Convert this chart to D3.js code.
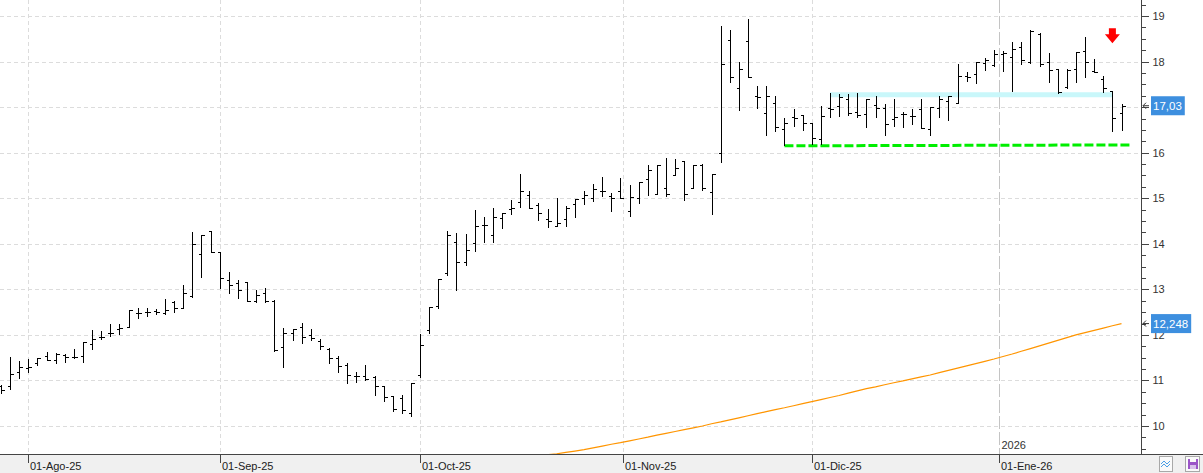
<!DOCTYPE html>
<html>
<head>
<meta charset="utf-8">
<script src="https://cdn.jsdelivr.net/npm/d3@7/dist/d3.min.js"></script>
<style>
    body { margin: 0; background: #ffffff; }
    svg { display: block; font-family: "Liberation Sans", Arial, sans-serif; }
</style>
</head>
<body>
<div id="chart"></div>
<script>
// daily bars, 29-Jul-25 .. 21-Ene-26
const opens = [
    10.88, 10.87, 11.18, 11.27, 11.39, 11.54, 11.45, 11.56, 11.52, 11.53,
    11.80, 11.96, 12.05, 12.12, 12.18, 12.47, 12.51, 12.53, 12.49, 12.72,
    12.60, 12.85, 13.77, 14.29, 13.83, 13.20, 13.15, 13.16, 12.74, 12.91,
    12.74, 11.74, 12.04, 12.18, 12.00, 11.86, 11.70, 11.50, 11.34, 11.09,
    11.09, 11.07, 10.87, 10.66, 10.61, 10.29, 11.13, 12.10, 12.64, 13.35,
    14.03, 13.61, 14.01, 14.41, 14.20, 14.56, 14.76, 14.91, 15.06, 14.85,
    14.54, 14.40, 14.54, 14.88, 15.01, 15.00, 15.15, 15.04, 15.15, 14.71,
    15.00, 15.43, 15.10, 15.22, 15.52, 15.81, 15.22, 15.72, 15.13, 15.99,
    18.48, 17.42, 18.45, 17.25, 16.88, 17.09, 16.53, 16.79, 16.82, 16.66,
    16.31, 16.99, 17.02, 17.17, 16.89, 16.84, 17.04, 16.99, 16.75, 16.84,
    16.80, 16.96, 16.53, 16.99, 17.13, 17.09, 17.68, 17.73, 17.97, 17.93,
    18.16, 18.10, 18.32, 17.98, 18.61, 17.98, 17.84, 17.44, 17.84, 18.24,
    17.79, 17.62, 17.35, 16.88
];
const highs = [
    10.90, 11.52, 11.42, 11.47, 11.50, 11.63, 11.60, 11.58, 11.70, 11.85,
    12.10, 12.09, 12.25, 12.25, 12.54, 12.58, 12.60, 12.56, 12.78, 12.75,
    13.09, 14.26, 14.20, 14.29, 13.83, 13.39, 13.20, 13.16, 12.99, 13.04,
    12.76, 12.16, 12.14, 12.27, 12.14, 11.92, 11.72, 11.54, 11.39, 11.19,
    11.34, 11.10, 10.88, 10.66, 10.68, 10.94, 12.03, 12.62, 13.23, 14.29,
    14.24, 14.21, 14.74, 14.58, 14.78, 14.68, 14.96, 15.54, 15.15, 14.89,
    14.76, 15.00, 14.84, 14.99, 15.15, 15.32, 15.46, 15.11, 15.44, 15.29,
    15.35, 15.72, 15.74, 15.88, 15.87, 15.81, 15.72, 15.76, 15.54, 18.77,
    18.69, 17.98, 18.93, 17.46, 17.47, 17.25, 16.77, 16.96, 16.82, 16.66,
    17.02, 17.30, 17.28, 17.28, 17.30, 17.18, 17.24, 17.06, 17.18, 16.89,
    16.96, 17.18, 17.01, 17.25, 17.25, 17.95, 17.76, 17.98, 18.08, 18.26,
    18.24, 18.42, 18.42, 18.69, 18.62, 18.19, 17.84, 17.84, 18.20, 18.53,
    18.05, 17.68, 17.35, 17.06
];
const lows = [
    10.72, 10.82, 11.06, 11.19, 11.34, 11.45, 11.39, 11.41, 11.50, 11.41,
    11.70, 11.92, 11.98, 12.01, 12.18, 12.36, 12.42, 12.45, 12.45, 12.50,
    12.58, 12.84, 13.27, 13.82, 13.02, 12.93, 12.80, 12.74, 12.72, 12.72,
    11.65, 11.30, 11.89, 11.83, 11.89, 11.69, 11.39, 11.18, 10.95, 10.97,
    11.00, 10.68, 10.55, 10.32, 10.28, 10.23, 11.07, 12.05, 12.58, 13.31,
    12.99, 13.54, 13.85, 14.04, 14.04, 14.35, 14.65, 14.80, 14.78, 14.53,
    14.36, 14.40, 14.40, 14.58, 14.88, 14.95, 15.04, 14.71, 15.00, 14.62,
    14.89, 15.08, 15.10, 15.04, 15.50, 14.97, 15.22, 15.17, 14.65, 15.80,
    17.55, 16.93, 17.66, 16.99, 16.38, 16.48, 16.16, 16.59, 16.50, 16.19,
    16.19, 16.79, 16.80, 16.82, 16.79, 16.57, 16.79, 16.38, 16.59, 16.57,
    16.62, 16.55, 16.38, 16.79, 16.72, 17.09, 17.57, 17.52, 17.82, 17.91,
    17.79, 17.35, 17.95, 17.97, 17.91, 17.55, 17.31, 17.42, 17.55, 17.66,
    17.76, 17.33, 16.48, 16.50
];
const closes = [
    10.78, 11.15, 11.30, 11.30, 11.50, 11.45, 11.57, 11.52, 11.52, 11.85,
    11.92, 11.95, 12.05, 12.15, 12.54, 12.47, 12.51, 12.51, 12.55, 12.60,
    12.91, 13.99, 14.20, 13.82, 13.24, 13.10, 12.98, 12.74, 12.88, 12.74,
    11.66, 12.05, 12.12, 11.96, 11.94, 11.76, 11.49, 11.31, 11.13, 11.09,
    11.03, 10.87, 10.64, 10.38, 10.36, 10.94, 11.77, 12.62, 13.22, 14.19,
    13.59, 13.86, 14.40, 14.41, 14.58, 14.68, 14.78, 15.15, 14.78, 14.68,
    14.49, 14.45, 14.78, 14.99, 15.07, 15.21, 15.15, 15.01, 15.00, 15.02,
    15.35, 15.61, 15.72, 15.10, 15.67, 15.10, 15.72, 15.22, 15.54, 17.95,
    17.66, 17.84, 17.66, 17.23, 17.25, 16.57, 16.66, 16.77, 16.66, 16.33,
    16.80, 16.95, 17.23, 16.86, 16.82, 17.17, 16.99, 16.62, 16.79, 16.84,
    16.80, 16.55, 17.01, 17.18, 17.25, 17.69, 17.66, 17.98, 18.04, 18.16,
    18.19, 18.27, 18.03, 18.66, 17.95, 17.82, 17.33, 17.82, 18.20, 17.98,
    17.76, 17.42, 16.77, 17.03
];

// moving average (orange), first value belongs to bar 60
const maStart = 60;
const maValues = [
    9.37, 9.39, 9.42, 9.45, 9.48, 9.52, 9.56, 9.60, 9.635, 9.675,
    9.715, 9.755, 9.80, 9.84, 9.88, 9.92, 9.96, 10.00, 10.05, 10.09,
    10.135, 10.18, 10.225, 10.27, 10.315, 10.36, 10.40, 10.445, 10.49, 10.535,
    10.58, 10.625, 10.67, 10.72, 10.77, 10.82, 10.86, 10.905, 10.95, 10.99,
    11.035, 11.08, 11.12, 11.17, 11.22, 11.27, 11.32, 11.37, 11.42, 11.47,
    11.525, 11.58, 11.64, 11.70, 11.76, 11.82, 11.88, 11.94, 12.00, 12.05,
    12.10, 12.15, 12.20, 12.248
];

const firstDay = "2025-07-29";
const holidays = ["2025-12-25", "2025-12-26", "2026-01-01"];
const monthDates = ["2025-08-01", "2025-09-01", "2025-10-01", "2025-11-01", "2025-12-01", "2026-01-01"];
const monthLabels = ["01-Ago-25", "01-Sep-25", "01-Oct-25", "01-Nov-25", "01-Dic-25", "01-Ene-26"];
const yearDate = "2026-01-01";
const yearLabel = "2026";
const yTicks = [10, 11, 12, 13, 14, 15, 16, 17, 18, 19];

// drawn lines: resistance band and support
const resistanceBars = [91, 122];
const resistanceLevel = 17.27;
const supportBars = [86, 124];
const supportLevels = [16.15, 16.17];
const signalBar = 122;
const signalLevel = 18.73;
const lastMa = 12.248;


class BarChart {
    constructor(containerId) {
        this.containerId = containerId;
        this.initVis();
    }

    initVis() {
        let vis = this;

        vis.width = 1203;
        vis.height = 473;
        vis.plotW = 1141;
        vis.plotH = 454;

        vis.parse = d3.timeParse("%Y-%m-%d");
        vis.days = vis.tradingDays(vis.parse(firstDay), closes.length);

        vis.svg = d3.select('#' + vis.containerId).append('svg')
            .attr('width', vis.width)
            .attr('height', vis.height);

        vis.x = d3.scaleLinear().domain([0, closes.length - 1]).range([1, 1121.5]);
        vis.y = d3.scaleLinear().domain([10, 19]).range([426, 16]);

        vis.svg.append('defs').append('clipPath').attr('id', 'plotclip')
            .append('rect').attr('width', vis.plotW).attr('height', vis.plotH);

        vis.drawFrame();
        vis.drawGrid();
        vis.plot = vis.svg.append('g').attr('clip-path', 'url(#plotclip)');
        vis.drawLevels();
        vis.drawAverage();
        vis.drawBars();
        vis.drawAxes();
        vis.drawIcons();
    }

    tradingDays(start, count) {
        let days = [];
        let d = new Date(start);
        let fmt = d3.timeFormat("%Y-%m-%d");
        while (days.length < count) {
            let wd = d.getDay();
            if (wd !== 0 && wd !== 6 && !holidays.includes(fmt(d))) days.push(new Date(d));
            d = d3.timeDay.offset(d, 1);
        }
        return days;
    }

    // bar position of a calendar date, between trading days if the market was closed
    dateIndex(dateStr) {
        let vis = this;
        let t = vis.parse(dateStr);
        let i = vis.days.findIndex(d => d >= t);
        if (+vis.days[i] === +t || i <= 0) return i;
        let prev = vis.days[i - 1];
        return i - 1 + (t - prev) / (vis.days[i] - prev);
    }

    drawFrame() {
        let vis = this;
        vis.svg.append('rect').attr('width', vis.width).attr('height', vis.height).attr('fill', '#ffffff');
        vis.svg.append('rect')
            .attr('x', 0).attr('y', vis.plotH)
            .attr('width', vis.width).attr('height', vis.height - vis.plotH)
            .attr('fill', '#f0f0f0');
    }

    drawGrid() {
        let vis = this;
        let g = vis.svg.append('g').attr('shape-rendering', 'crispEdges');

        g.selectAll('.hgrid').data(yTicks).enter().append('line')
            .attr('x1', 0).attr('x2', vis.plotW - 3)
            .attr('y1', d => Math.round(vis.y(d)) + 0.5)
            .attr('y2', d => Math.round(vis.y(d)) + 0.5)
            .attr('stroke', '#dcdcdc')
            .attr('stroke-dasharray', '4,3');

        let months = monthDates.filter(d => d !== yearDate);
        g.selectAll('.vgrid').data(months).enter().append('line')
            .attr('x1', d => Math.round(vis.x(vis.dateIndex(d))) + 0.5)
            .attr('x2', d => Math.round(vis.x(vis.dateIndex(d))) + 0.5)
            .attr('y1', 0).attr('y2', vis.plotH)
            .attr('stroke', '#dcdcdc')
            .attr('stroke-dasharray', '4,3');

        // year change
        let yx = Math.round(vis.x(vis.dateIndex(yearDate))) + 0.5;
        g.append('line')
            .attr('x1', yx).attr('x2', yx)
            .attr('y1', 0).attr('y2', vis.plotH)
            .attr('stroke', '#c4c4c4')
            .attr('stroke-width', 1.5)
            .attr('stroke-dasharray', '13,3');
        vis.svg.append('text')
            .attr('x', yx + 2).attr('y', 449)
            .attr('font-size', '11px').attr('fill', '#333')
            .text(yearLabel);
    }

    drawLevels() {
        let vis = this;

        vis.plot.append('line')
            .attr('x1', vis.x(resistanceBars[0])).attr('x2', vis.x(resistanceBars[1]))
            .attr('y1', vis.y(resistanceLevel)).attr('y2', vis.y(resistanceLevel))
            .attr('stroke', '#c9f7fa')
            .attr('stroke-width', 5);

        vis.plot.append('line')
            .attr('x1', vis.x(supportBars[0])).attr('x2', vis.x(supportBars[1]))
            .attr('y1', vis.y(supportLevels[0])).attr('y2', vis.y(supportLevels[1]))
            .attr('stroke', '#00ee00')
            .attr('stroke-width', 3)
            .attr('stroke-dasharray', '9,3');
    }

    drawAverage() {
        let vis = this;
        let line = d3.line()
            .x((d, i) => vis.x(maStart + i))
            .y(d => vis.y(d));

        vis.plot.append('path')
            .datum(maValues)
            .attr('d', line)
            .attr('fill', 'none')
            .attr('stroke', '#ff9500')
            .attr('stroke-width', 1.2);
    }

    drawBars() {
        let vis = this;
        let bars = closes.map((c, i) => ({ i: i, o: opens[i], h: highs[i], l: lows[i], c: c }));
        let py = v => Math.round(vis.y(v)) + 0.5;

        vis.plot.append('g')
            .attr('shape-rendering', 'crispEdges')
            .selectAll('path').data(bars).enter().append('path')
            .attr('d', d => {
                let x = Math.round(vis.x(d.i)) + 0.5;
                return `M${x},${Math.round(vis.y(d.h))}V${Math.round(vis.y(d.l)) + 1}` +
                    `M${x - 3},${py(d.o)}H${x}` +
                    `M${x},${py(d.c)}H${x + 3}`;
            })
            .attr('fill', 'none')
            .attr('stroke', '#000')
            .attr('stroke-width', 1);

        // sell signal arrow
        let ax = vis.x(signalBar), ay = vis.y(signalLevel);
        vis.plot.append('path')
            .attr('d', `M${ax - 3.5},${ay}h7v6h4l-7.5,9l-7.5,-9h4z`)
            .attr('fill', '#ff0000');
    }

    drawAxes() {
        let vis = this;
        let locale = d3.formatLocale({ decimal: ",", thousands: ".", grouping: [3], currency: ["", ""] });
        let tags = [
            { v: closes[closes.length - 1], txt: locale.format('.2f')(closes[closes.length - 1]) },
            { v: lastMa, txt: locale.format('.3f')(lastMa) }
        ];

        // right price axis
        let minor = d3.range(9.5, 19.3, 0.25);
        vis.svg.append('g')
            .attr('transform', `translate(${vis.plotW + 0.5},0)`)
            .attr('shape-rendering', 'crispEdges')
            .call(d3.axisRight(vis.y).tickValues(minor).tickSize(4).tickFormat(''))
            .call(g => g.select('.domain').remove())
            .selectAll('line').attr('stroke', '#444');

        let axis = vis.svg.append('g')
            .attr('transform', `translate(${vis.plotW + 0.5},0)`)
            .call(d3.axisRight(vis.y).tickValues(yTicks).tickSize(7).tickPadding(4).tickFormat(d3.format('d')));
        axis.select('.domain').remove();
        axis.selectAll('line').attr('stroke', '#444').attr('shape-rendering', 'crispEdges');
        axis.selectAll('text').attr('font-size', '11px').attr('fill', '#333').attr('font-family', null);
        // labels fully covered by a value box are not shown
        axis.selectAll('.tick').filter(d => tags.some(t => Math.abs(vis.y(d) - vis.y(t.v)) < 7))
            .select('text').remove();

        // frame lines
        vis.svg.append('line')
            .attr('x1', vis.plotW + 0.5).attr('x2', vis.plotW + 0.5)
            .attr('y1', 0).attr('y2', vis.plotH)
            .attr('stroke', '#444');
        vis.svg.append('line')
            .attr('x1', 0).attr('x2', vis.width)
            .attr('y1', vis.plotH + 0.5).attr('y2', vis.plotH + 0.5)
            .attr('stroke', '#444');

        // month ticks
        let mt = vis.svg.append('g');
        monthDates.forEach((d, k) => {
            let mx = Math.round(vis.x(vis.dateIndex(d))) + 0.5;
            mt.append('line')
                .attr('x1', mx).attr('x2', mx)
                .attr('y1', vis.plotH).attr('y2', vis.plotH + 9)
                .attr('stroke', '#444');
            mt.append('text')
                .attr('x', mx + 1.5).attr('y', 470)
                .attr('font-size', '11px').attr('fill', '#222')
                .text(monthLabels[k]);
        });

        // last value boxes
        tags.forEach(t => {
            let ty = vis.y(t.v);
            let g = vis.svg.append('g');
            let rect = g.append('rect')
                .attr('x', 1151).attr('y', ty - 9.5)
                .attr('height', 19)
                .attr('fill', '#3d8fdf');
            let label = g.append('text')
                .attr('x', 1153).attr('y', ty + 4)
                .attr('font-size', '11.5px').attr('fill', '#fff')
                .text(t.txt);
            rect.attr('width', label.node().getComputedTextLength() + 5);
            vis.svg.append('path')
                .attr('d', `M${vis.plotW + 8},${ty}H${vis.plotW + 2}M${vis.plotW + 5},${ty - 3}L${vis.plotW + 2},${ty}L${vis.plotW + 5},${ty + 3}`)
                .attr('fill', 'none').attr('stroke', '#333');
        });
    }

    drawIcons() {
        let vis = this;
        let g = vis.svg.append('g').attr('shape-rendering', 'crispEdges');
        g.append('rect').attr('x', 1159.5).attr('y', 456.5).attr('width', 13).attr('height', 15)
            .attr('fill', '#fafafa').attr('stroke', '#a8a8a8');
        g.append('path').attr('d', 'M1161,464l3,-3l3,3l3,-3M1161,467l3,-3l3,3l3,-3')
            .attr('fill', 'none').attr('stroke', '#4a9fe6').attr('stroke-width', 1.2)
            .attr('shape-rendering', null);
        g.append('rect').attr('x', 1185.5).attr('y', 456.5).attr('width', 14).attr('height', 15)
            .attr('fill', '#fafafa').attr('stroke', '#a8a8a8');
        g.append('rect').attr('x', 1188).attr('y', 459).attr('width', 10).attr('height', 10).attr('fill', '#9b55c8');
        g.append('rect').attr('x', 1190).attr('y', 459).attr('width', 6).attr('height', 3).attr('fill', '#fafafa');
        g.append('rect').attr('x', 1190).attr('y', 465).attr('width', 6).attr('height', 4).attr('fill', '#d9c2ec');
    }
}

new BarChart('chart');
</script>
</body>
</html>
